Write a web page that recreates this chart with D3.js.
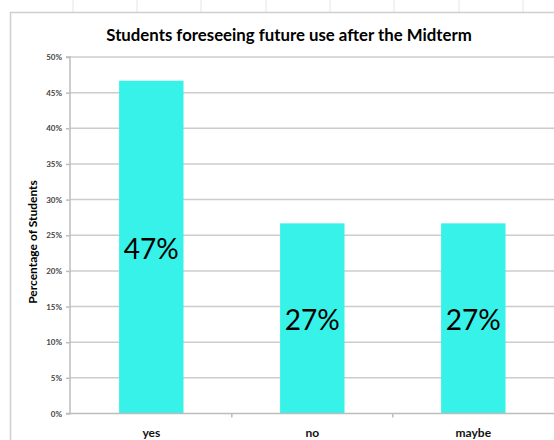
<!DOCTYPE html>
<html>
<head>
<meta charset="utf-8">
<script src="https://cdn.jsdelivr.net/npm/d3@7"></script>
<style>
  html, body { margin: 0; padding: 0; background: #fff; }
  svg { display: block; }
</style>
</head>
<body>
<svg id="chart" width="554" height="440"></svg>
<script>
const categories = ["yes", "no", "maybe"];
const values = [0.4667, 0.2667, 0.2667];
const valueLabels = ["47%", "27%", "27%"];
const yTicks = [0, 0.05, 0.10, 0.15, 0.20, 0.25, 0.30, 0.35, 0.40, 0.45, 0.50];
const title = "Students foreseeing future use after the Midterm";
const yTitle = "Percentage of Students";

const W = 554, H = 440;
const svg = d3.select("#chart");
const font = "Lato, 'Open Sans', sans-serif";

// spreadsheet frame
const colMarks = [73, 137, 201, 266, 330, 394, 459, 523];
svg.append("g").selectAll("line").data(colMarks).join("line")
  .attr("x1", d => d).attr("x2", d => d).attr("y1", 0).attr("y2", 12)
  .attr("stroke", "#e6e6e6").attr("stroke-width", 1);
svg.append("path")
  .attr("d", `M10.5,${H} V12.5 H${W}`)
  .attr("fill", "none").attr("stroke", "#cfcfcf").attr("stroke-width", 1.5);

const x = d3.scaleBand().domain(categories).range([70.8, 553.8])
  .paddingInner(0.6).paddingOuter(0.3);
const y = d3.scaleLinear().domain([0, 0.5]).range([413.5, 57]);

// gridlines
svg.append("g").selectAll("line").data(yTicks.slice(1)).join("line")
  .attr("x1", 70).attr("x2", W)
  .attr("y1", d => y(d)).attr("y2", d => y(d))
  .attr("stroke", "#cccccc").attr("stroke-width", 1.5);

// y axis
const yAxis = d3.axisLeft(y).tickValues(yTicks).tickSize(4)
  .tickFormat(d3.format(".0%"));
const ya = svg.append("g").attr("transform", "translate(70,0)").call(yAxis);
ya.select(".domain").attr("stroke", "#bdbdbd").attr("stroke-width", 1.5)
  .attr("d", `M-4,${y(0.5)}H0V${y(0)}H-4`);
ya.selectAll(".tick line").attr("stroke", "#bdbdbd").attr("stroke-width", 1.5);
ya.selectAll(".tick text").attr("x", -8)
  .attr("font-family", font).attr("font-size", 8).attr("font-weight", "bold")
  .attr("fill", "#444");

// bars
svg.append("g").selectAll("rect").data(values).join("rect")
  .attr("x", (d, i) => x(categories[i]))
  .attr("width", x.bandwidth())
  .attr("y", d => y(d))
  .attr("height", d => y(0) - y(d))
  .attr("fill", "#36F2E8");

// x axis
const xAxis = d3.axisBottom(x).tickSize(0).tickFormat(d => d);
const xa = svg.append("g").attr("transform", `translate(0,${y(0)})`).call(xAxis);
xa.select(".domain").attr("stroke", "#bdbdbd").attr("stroke-width", 1.5)
  .attr("d", `M70,0H${W}`);
xa.selectAll(".tick text").attr("y", 23).attr("dy", 0)
  .attr("font-family", font).attr("font-size", 12).attr("font-weight", "bold")
  .attr("fill", "#111");
// category separators
const seps = x.domain().slice(1).map(c => x(c) - x.step() * x.paddingInner() / 2);
xa.append("g").selectAll("line").data(seps).join("line")
  .attr("x1", d => d).attr("x2", d => d).attr("y1", 0).attr("y2", 4)
  .attr("stroke", "#bdbdbd").attr("stroke-width", 1.5);

// value labels
svg.append("g").selectAll("text").data(values).join("text")
  .attr("x", (d, i) => x(categories[i]) + x.bandwidth() / 2)
  .attr("y", d => (y(d) + y(0)) / 2 + 12)
  .attr("text-anchor", "middle")
  .attr("font-family", font).attr("font-size", 28)
  .attr("fill", "#000")
  .text((d, i) => valueLabels[i]);

// title
svg.append("text").attr("x", 289).attr("y", 41).attr("text-anchor", "middle")
  .attr("font-family", font).attr("font-size", 16.8).attr("font-weight", "bold")
  .attr("fill", "#000").text(title);

// y title
svg.append("text").attr("transform", "translate(37,242) rotate(-90)")
  .attr("text-anchor", "middle")
  .attr("font-family", font).attr("font-size", 12).attr("font-weight", "bold")
  .attr("fill", "#000").text(yTitle);
</script>
</body>
</html>
